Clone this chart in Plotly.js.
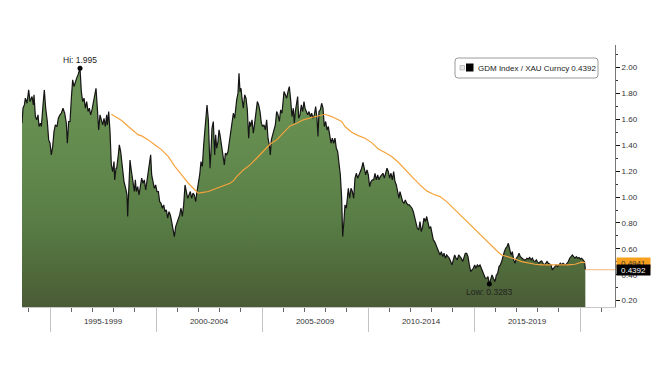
<!DOCTYPE html>
<html>
<head>
<meta charset="utf-8">
<script src="https://cdn.plot.ly/plotly-3.0.1.min.js"></script>
<style>html,body{margin:0;padding:0;background:#fff;}#chart{width:670px;height:377px;}</style>
</head>
<body>
<div id="chart"></div>
<script>
// ---- DATA ----
const seriesName = 'GDM Index / XAU Curncy';
const gdmYears = [
1993.680,1993.727,1993.790,1993.837,1993.915,1993.994,1994.057,1994.151,1994.214,1994.246,1994.309,1994.371,1994.434,1994.482,1994.544,1994.592,1994.670,1994.733,1994.796,1994.874,1994.937,1995.000,1995.063,1995.126,1995.189,1995.252,1995.330,1995.393,1995.472,1995.535,1995.613,1995.692,1995.771,1995.818,1995.881,1995.944,1996.007,1996.069,1996.132,1996.195,1996.258,1996.321,1996.384,1996.415,1996.478,1996.541,1996.604,1996.667,1996.730,1996.793,1996.856,1996.918,1996.981,1997.044,1997.107,1997.170,1997.233,1997.296,1997.359,1997.422,1997.485,1997.548,1997.610,1997.673,1997.705,1997.768,1997.830,1997.893,1997.956,1998.019,1998.050,1998.113,
1998.145,1998.223,1998.270,1998.333,1998.412,1998.491,1998.569,1998.632,1998.663,1998.726,1998.774,1998.821,1998.884,1998.931,1998.978,
1999.025,1999.072,1999.135,1999.198,1999.261,1999.324,1999.387,1999.450,1999.513,1999.575,1999.638,1999.701,1999.748,1999.796,1999.858,1999.921,1999.984,
2000.047,2000.110,2000.173,2000.236,2000.299,2000.362,2000.424,2000.487,2000.550,2000.613,2000.676,2000.739,2000.802,2000.865,2000.928,2000.991,
2001.053,2001.116,2001.179,2001.242,2001.305,2001.368,2001.431,2001.494,2001.557,2001.619,2001.682,2001.745,2001.808,2001.871,2001.934,2001.997,
2002.060,2002.123,2002.186,2002.248,2002.311,2002.374,2002.406,2002.469,
2002.547,2002.594,2002.641,2002.704,2002.767,2002.814,2002.861,2002.924,2002.972,
2003.019,2003.082,2003.129,2003.176,2003.223,2003.270,2003.333,2003.396,2003.459,2003.522,2003.585,2003.648,2003.711,2003.758,2003.805,2003.868,2003.915,2003.962,
2004.009,2004.056,2004.119,2004.182,2004.245,2004.308,2004.371,2004.418,2004.465,2004.528,2004.591,2004.654,2004.717,2004.780,2004.843,2004.906,2004.969,
2005.031,2005.094,2005.157,2005.220,2005.283,2005.346,2005.393,2005.440,2005.503,2005.566,2005.629,2005.692,2005.755,2005.818,2005.880,2005.943,2005.991,
2006.038,2006.101,2006.164,2006.226,2006.289,2006.352,2006.415,2006.478,2006.525,2006.572,2006.635,2006.682,2006.730,2006.792,2006.855,2006.918,2006.981,
2007.028,2007.091,2007.154,2007.217,2007.280,2007.342,2007.405,2007.468,2007.531,2007.594,2007.641,2007.688,2007.751,2007.814,2007.877,2007.940,
2008.003,2008.066,2008.129,2008.192,2008.254,2008.317,2008.380,2008.443,2008.506,2008.569,2008.632,2008.695,2008.758,2008.805,2008.852,2008.915,2008.978,
2009.025,2009.072,2009.135,2009.198,2009.261,2009.324,2009.387,2009.449,2009.512,2009.575,2009.638,2009.701,2009.764,2009.827,2009.890,2009.953,
2010.015,2010.078,2010.141,2010.204,2010.267,2010.330,2010.393,2010.456,2010.519,2010.582,2010.645,2010.707,2010.770,2010.833,2010.896,2010.959,
2011.022,2011.085,2011.148,2011.210,2011.273,2011.336,2011.399,2011.462,
2011.509,2011.572,2011.635,2011.698,2011.761,2011.823,2011.886,2011.949,
2012.012,2012.075,2012.138,2012.201,2012.264,2012.327,2012.390,2012.452,2012.515,2012.578,2012.641,2012.704,2012.767,2012.830,2012.893,2012.956,
2013.018,2013.081,2013.144,2013.207,2013.270,2013.333,2013.396,2013.459,2013.522,2013.585,2013.648,2013.711,2013.773,2013.836,2013.899,2013.962,
2014.025,2014.088,2014.151,2014.214,2014.277,2014.340,2014.403,2014.465,2014.528,2014.591,2014.654,2014.717,2014.780,2014.843,2014.906,2014.968,
2015.031,2015.094,2015.157,2015.220,2015.283,2015.346,2015.409,2015.472,2015.535,2015.597,2015.660,2015.723,2015.786,2015.849,2015.912,
2015.991,
2016.054,2016.117,2016.180,2016.243,2016.305,2016.368,2016.431,2016.494,2016.557,2016.620,2016.683,2016.746,2016.809,2016.871,2016.934,2016.997,
2017.060,2017.123,2017.186,2017.249,2017.312,2017.375,2017.437,2017.500,2017.563,2017.626,2017.689,2017.752,2017.815,2017.878,2017.941,
2018.003,2018.066,2018.129,2018.192,2018.255,2018.318,2018.381,2018.444,2018.507,2018.569,2018.632,2018.695,2018.758,2018.821,2018.884,2018.947,
2019.010,2019.072,2019.135,2019.198,2019.261,2019.324,2019.387,2019.450,2019.513,2019.576,2019.639,2019.701,2019.764,2019.827,2019.890,2019.953,
2020.016,2020.079,2020.142,2020.205,2020.236,2020.252
];
const gdmValues = [
1.571,1.687,1.712,1.764,1.725,1.828,1.738,1.777,1.712,1.790,1.622,1.597,1.635,1.545,1.571,1.545,1.712,1.828,1.687,1.584,1.442,1.416,1.326,1.390,1.506,1.558,1.545,1.609,1.635,1.648,1.687,1.648,1.571,1.416,1.584,1.584,1.764,1.906,1.854,1.893,1.919,1.944,1.983,1.995,1.815,1.738,1.764,1.687,1.738,1.661,1.687,1.635,1.674,1.725,1.764,1.841,1.687,1.519,1.635,1.597,1.558,1.609,1.545,1.635,1.558,1.661,1.506,1.249,1.197,1.274,1.133,1.223,
1.223,1.326,1.403,1.352,1.223,1.120,1.068,1.017,0.850,1.171,1.287,1.223,1.146,1.068,1.043,
1.133,1.043,1.081,1.017,1.081,1.146,1.107,1.133,1.055,1.120,1.184,1.249,1.326,1.171,1.107,1.068,1.094,
1.043,1.043,0.965,0.953,0.914,0.940,0.888,0.901,0.837,0.888,0.862,0.811,0.759,0.695,0.772,0.798,
0.837,0.862,0.914,0.850,0.940,1.094,1.043,0.991,1.017,1.043,0.991,1.030,1.017,0.965,1.043,1.094,
1.171,1.274,1.236,1.403,1.558,1.661,1.712,1.597,
1.223,1.352,1.532,1.584,1.326,1.481,1.377,1.429,1.519,
1.481,1.403,1.326,1.274,1.249,1.339,1.326,1.352,1.429,1.494,1.571,1.648,1.609,1.687,1.751,1.803,1.957,1.815,
1.841,1.764,1.687,1.790,1.764,1.674,1.455,1.584,1.545,1.597,1.494,1.571,1.661,1.738,1.712,1.661,1.571,
1.545,1.558,1.519,1.597,1.455,1.403,1.326,1.442,1.481,1.506,1.558,1.661,1.635,1.584,1.674,1.648,1.764,
1.815,1.790,1.764,1.815,1.854,1.751,1.622,1.687,1.571,1.661,1.712,1.777,1.609,1.635,1.712,1.661,1.738,
1.687,1.661,1.635,1.661,1.622,1.648,1.609,1.635,1.700,1.609,1.468,1.661,1.674,1.725,1.687,1.545,
1.584,1.519,1.545,1.481,1.416,1.455,1.416,1.455,1.377,1.352,1.249,1.171,0.991,0.695,0.785,0.940,0.914,
1.017,1.068,0.991,1.068,1.043,0.991,1.146,1.184,1.146,1.171,1.210,1.223,1.269,1.223,1.171,1.210,
1.171,1.081,1.120,1.133,1.133,1.184,1.133,1.171,1.133,1.158,1.171,1.184,1.146,1.184,1.223,1.197,
1.146,1.184,1.133,1.197,1.120,1.094,1.043,0.991,
1.043,1.004,0.965,0.953,0.978,0.953,0.940,0.940,
0.927,0.914,0.888,0.837,0.785,0.759,0.746,0.811,0.733,0.772,0.837,0.811,0.850,0.811,0.759,0.772,
0.708,0.669,0.656,0.630,0.605,0.566,0.553,0.579,0.540,0.566,0.528,0.553,0.540,0.528,0.502,0.476,
0.515,0.553,0.528,0.515,0.553,0.540,0.528,0.502,0.540,0.566,0.566,0.540,0.476,0.424,0.437,0.450,
0.476,0.450,0.476,0.463,0.476,0.450,0.411,0.399,0.373,0.373,0.386,0.3283,0.360,0.399,0.373,
0.347,
0.399,0.411,0.463,0.476,0.502,0.553,0.579,0.605,0.617,0.643,0.605,0.553,0.579,0.515,0.489,0.528,
0.540,0.566,0.540,0.528,0.522,0.515,0.515,0.528,0.522,0.533,0.515,0.528,0.507,0.502,0.515,
0.497,0.489,0.502,0.507,0.489,0.476,0.489,0.502,0.489,0.481,0.476,0.437,0.450,0.463,0.476,0.463,
0.476,0.489,0.476,0.489,0.481,0.476,0.489,0.502,0.528,0.540,0.553,0.540,0.528,0.540,0.528,0.533,
0.522,0.528,0.515,0.502,0.470,0.4392
];
const maYears = [1997.893,1998.066,1998.380,1998.695,1999.009,1999.167,1999.324,1999.638,1999.953,2000.267,2000.582,2000.896,2001.211,2001.525,2001.840,2001.997,2002.154,2002.469,2002.861,2003.176,2003.490,2003.648,2003.805,2004.119,2004.434,2004.748,2005.063,2005.377,2005.692,2006.006,2006.321,2006.635,2006.950,2007.342,2007.657,2007.971,2008.286,2008.600,2008.758,2008.915,2009.229,2009.544,2009.858,2010.173,2010.487,2010.802,2011.116,2011.431,2011.823,2012.138,2012.452,2012.767,2013.081,2013.396,2013.711,2014.025,2014.340,2014.654,2014.968,2015.283,2015.597,2015.912,2016.148,2016.305,2016.620,2016.934,2017.249,2017.563,2017.878,2018.192,2018.507,2018.821,2019.135,2019.450,2019.764,2020.079,2020.252];
const maValues = [1.640,1.622,1.591,1.545,1.501,1.481,1.473,1.442,1.403,1.365,1.313,1.236,1.171,1.107,1.055,1.030,1.035,1.043,1.068,1.089,1.107,1.125,1.158,1.210,1.249,1.300,1.352,1.408,1.442,1.494,1.550,1.571,1.597,1.615,1.630,1.640,1.622,1.597,1.584,1.545,1.501,1.475,1.455,1.421,1.372,1.344,1.313,1.269,1.197,1.146,1.094,1.048,1.022,1.004,0.965,0.914,0.862,0.811,0.764,0.708,0.656,0.605,0.574,0.553,0.540,0.522,0.502,0.489,0.481,0.476,0.476,0.471,0.471,0.476,0.481,0.497,0.4941];
const periodLabels = ['1995-1999','2000-2004','2005-2009','2010-2014','2015-2019'];
const periodMids = [1997.5,2002.5,2007.5,2012.5,2017.5];
const periodBounds = [1995,2000,2005,2010,2015,2020];

// ---- derived ----
const xRange = [1993.679, 2021.651];
const yRange = [0.151, 2.175];
const n = gdmValues.length;
let iHi = 0, iLo = 0;
gdmValues.forEach((v,i)=>{ if(v>gdmValues[iHi]) iHi=i; if(v<gdmValues[iLo]) iLo=i; });
const lastT = gdmYears[n-1], lastV = gdmValues[n-1];
const lastMA = maValues[maValues.length-1];

// pixel -> paper helpers for decorations
const PL=22, PR=615, PT=45, PB=307;
const px = x => (x-PL)/(PR-PL);
const py = y => (PB-y)/(PB-PT);

const font = 'Liberation Sans, Arial, sans-serif';

const traces = [
  {x: gdmYears, y: gdmValues, type:'scatter', mode:'lines', fill:'tozeroy',
   line:{color:'#151515', width:1.2},
   fillgradient:{type:'vertical', start:0.15, stop:2.0,
     colorscale:[[0,'#4a5b36'],[0.15,'#506a3b'],[0.35,'#587c45'],[0.6,'#62894d'],[1,'#6c9657']]},
   hoverinfo:'skip'},
  {x: maYears, y: maValues, type:'scatter', mode:'lines', line:{color:'#f5a33c', width:1.2}, hoverinfo:'skip'},
  {x: [lastT, xRange[1]], y: [lastV, lastV], xaxis:'x2', type:'scatter', mode:'lines', line:{color:'#f8c28e', width:1.2}, hoverinfo:'skip'},
  {x: [gdmYears[iHi], gdmYears[iLo]], y: [gdmValues[iHi], gdmValues[iLo]], type:'scatter', mode:'markers',
   marker:{color:'#000', size:5}, hoverinfo:'skip'}
];

const r = 3;
const lx0=px(455), lx1=px(598), ly0=py(78), ly1=py(58), rx=r/(PR-PL), ry=r/(PB-PT);
const legendPath = `M ${lx0+rx} ${ly1} L ${lx1-rx} ${ly1} Q ${lx1} ${ly1} ${lx1} ${ly1-ry} L ${lx1} ${ly0+ry} Q ${lx1} ${ly0} ${lx1-rx} ${ly0} L ${lx0+rx} ${ly0} Q ${lx0} ${ly0} ${lx0} ${ly0+ry} L ${lx0} ${ly1-ry} Q ${lx0} ${ly1} ${lx0+rx} ${ly1} Z`;

const layout = {
  width:670, height:377,
  margin:{l:PL, r:670-PR, t:PT, b:377-PB, pad:0},
  paper_bgcolor:'#ffffff', plot_bgcolor:'#ffffff',
  showlegend:false, hovermode:false,
  font:{family:font, size:8, color:'#333'},
  xaxis:{range:xRange, tickmode:'array', tickvals:periodBounds, ticktext:periodBounds.map(()=>''),
    ticks:'outside', ticklen:24, tickcolor:'#c4c4c4', tickwidth:1,
    showgrid:false, zeroline:false, showline:true, linecolor:'#c8c8c8', linewidth:1,
    minor:{tickmode:'linear', tick0:1993, dtick:1, ticks:'outside', ticklen:4, tickcolor:'#666', showgrid:false}},
  xaxis2:{overlaying:'x', anchor:'y', side:'bottom', range:xRange, tickmode:'array', tickvals:periodMids, ticktext:periodLabels,
    ticks:'outside', ticklen:6, tickcolor:'rgba(0,0,0,0)', showline:false, showgrid:false, zeroline:false,
    tickfont:{family:font, size:8, color:'#333'}},
  yaxis:{side:'right', range:yRange, tick0:0, dtick:0.2, tickformat:'.2f',
    ticks:'outside', ticklen:4, tickcolor:'#111', tickwidth:1,
    showline:true, linecolor:'#777', linewidth:1, showgrid:false, zeroline:false,
    tickfont:{family:font, size:8, color:'#333'},
    minor:{dtick:0.1, ticks:'outside', ticklen:2, tickcolor:'#333', showgrid:false}},
  shapes:[
    {type:'path', xref:'paper', yref:'paper', path:legendPath, line:{color:'#9a9a9a', width:1}, fillcolor:'#ffffff', layer:'above'},
    {type:'rect', xref:'paper', yref:'paper', x0:px(460), x1:px(464.5), y0:py(70), y1:py(65.5), line:{color:'#b5b5b5', width:0.8}, fillcolor:'#e8e8e8', layer:'above'},
    {type:'rect', xref:'paper', yref:'paper', x0:px(466), x1:px(473.5), y0:py(71.5), y1:py(63.5), line:{width:0}, fillcolor:'#000000', layer:'above'}
  ],
  annotations:[
    {xref:'paper', yref:'paper', x:px(476), y:py(68), xanchor:'left', yanchor:'middle', showarrow:false,
     text: seriesName + ' ' + lastV.toFixed(4), font:{family:font, size:8, color:'#222'}},
    {x:gdmYears[iHi], y:gdmValues[iHi], xref:'x', yref:'y', showarrow:false, xanchor:'center', yanchor:'bottom', yshift:1,
     text:'Hi: ' + gdmValues[iHi].toFixed(3), font:{family:font, size:8.5, color:'#222'}},
    {x:gdmYears[iLo], y:gdmValues[iLo], xref:'x', yref:'y', showarrow:false, xanchor:'center', yanchor:'top', yshift:-1,
     text:'Low: ' + gdmValues[iLo].toFixed(4), font:{family:font, size:8.5, color:'#222'}},
    {xref:'paper', yref:'y', x:1, y:lastMA, xanchor:'left', yanchor:'middle', xshift:1, showarrow:false,
     text: lastMA.toFixed(4), bgcolor:'#f6a01e', width:33, height:10, borderpad:0, font:{family:font, size:8, color:'#333'}},
    {xref:'paper', yref:'y', x:1, y:lastV, xanchor:'left', yanchor:'middle', xshift:1, showarrow:false,
     text: lastV.toFixed(4), bgcolor:'#000000', width:33, height:10, borderpad:0, font:{family:font, size:8, color:'#ffffff'}}
  ]
};

Plotly.newPlot('chart', traces, layout, {staticPlot:true, displayModeBar:false});
</script>
</body>
</html>
